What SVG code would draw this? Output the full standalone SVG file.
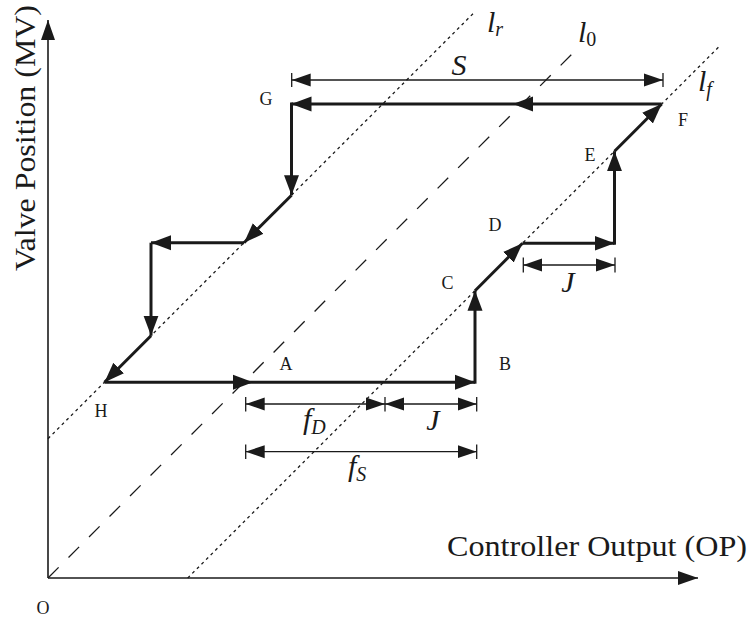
<svg xmlns="http://www.w3.org/2000/svg" width="751" height="619" viewBox="0 0 751 619" font-family="'Liberation Serif', 'Times New Roman', serif">
<style>
.ax{stroke:#1a1a1a;stroke-width:1.6;fill:none}
.thick{stroke:#1a1a1a;stroke-width:3;fill:none;marker-end:url(#ah)}
.dim{stroke:#1a1a1a;stroke-width:1.3;fill:none;marker-start:url(#dh);marker-end:url(#dh)}
.tick{stroke:#1a1a1a;stroke-width:1.3}
.dot{stroke:#1a1a1a;stroke-width:1.3;stroke-dasharray:3 3.5;fill:none}
.dash{stroke:#1a1a1a;stroke-width:1.3;stroke-dasharray:15 14;fill:none}
text{font-family:'Liberation Serif','Times New Roman',serif;fill:#1a1a1a}
.pt{font-size:18px;text-anchor:middle}
.math{font-style:italic;font-size:30px}
.sub{font-size:20px}
.rm{font-style:normal}
.axl{font-size:29px}
</style>
<defs>
<marker id="ah" viewBox="-20 -8 20 16" refX="0" refY="0" markerWidth="20" markerHeight="16" markerUnits="userSpaceOnUse" orient="auto-start-reverse"><path d="M0,0 L-20,-7.5 L-20,7.5 Z" fill="#1a1a1a"/></marker>
<marker id="dh" viewBox="-19 -7 19 14" refX="0" refY="0" markerWidth="19" markerHeight="14" markerUnits="userSpaceOnUse" orient="auto-start-reverse"><path d="M0,0 L-19,-6.5 L-19,6.5 Z" fill="#1a1a1a"/></marker>
<marker id="axh" viewBox="-20 -8 20 16" refX="0" refY="0" markerWidth="20" markerHeight="16" markerUnits="userSpaceOnUse" orient="auto"><path d="M0,0 L-20,-7 L-20,7 Z" fill="#1a1a1a"/></marker>
</defs>

<g id="axes">
<path class="ax" d="M48,578 V20" marker-end="url(#axh)"/>
<path class="ax" d="M48,578 H698" marker-end="url(#axh)"/>
<text class="axl" transform="translate(35,138) rotate(-90)" text-anchor="middle" textLength="266" lengthAdjust="spacingAndGlyphs">Valve Position (MV)</text>
<text class="axl" x="747" y="556" text-anchor="end" textLength="300" lengthAdjust="spacingAndGlyphs">Controller Output (OP)</text>
</g>

<g id="reference-lines">
<path class="dot" d="M48,438.7 L475,11.7"/>
<path class="dash" d="M48,578 L576,50"/>
<path class="dot" d="M187.7,578 L720,45.7"/>
</g>

<g id="connectors">
<path class="thick" d="M291.5,102.5 V195.2"/>
<path class="thick" d="M291.5,195.2 L244,242.7"/>
<path class="thick" d="M244,242.7 H151"/>
<path class="thick" d="M151,242.7 V335.7"/>
<path class="thick" d="M151,335.7 L104.5,382.2"/>
<path class="thick" d="M104.5,382.2 H253"/>
<path class="thick" d="M253,382.2 H475"/>
<path class="thick" d="M475,383.7 V290.7"/>
<path class="thick" d="M475,290.7 L522.5,243.2"/>
<path class="thick" d="M522.5,243.2 H614.5"/>
<path class="thick" d="M614.5,244.7 V151.2"/>
<path class="thick" d="M614.5,151.2 L661.7,104"/>
<path class="thick" d="M661.7,104 H513"/>
<path class="thick" d="M513,104 H291.5"/>
</g>

<g id="dimensions">
<path class="dim" d="M291.7,80 H663"/>
<line class="tick" x1="291.7" y1="73" x2="291.7" y2="87"/>
<line class="tick" x1="663" y1="73" x2="663" y2="87"/>
<path class="dim" d="M245.7,404 H385"/>
<path class="dim" d="M385,404 H476.7"/>
<line class="tick" x1="245.7" y1="397" x2="245.7" y2="411.5"/>
<line class="tick" x1="385" y1="397" x2="385" y2="411.5"/>
<line class="tick" x1="476.7" y1="397" x2="476.7" y2="411.5"/>
<path class="dim" d="M245.7,451.7 H476.7"/>
<line class="tick" x1="245.7" y1="444.5" x2="245.7" y2="459"/>
<line class="tick" x1="476.7" y1="444.5" x2="476.7" y2="459"/>
<path class="dim" d="M523.3,265 H615"/>
<line class="tick" x1="523.3" y1="257.5" x2="523.3" y2="272.5"/>
<line class="tick" x1="615" y1="257.5" x2="615" y2="272.5"/>
</g>

<g id="math-labels">
<text class="math" x="459" y="75" text-anchor="middle">S</text>
<text class="math" x="487" y="32">l<tspan class="sub" dy="4">r</tspan></text>
<text class="math" x="578" y="42">l<tspan class="sub rm" dy="4">0</tspan></text>
<text class="math" x="698" y="91">l<tspan class="sub" dy="5">f</tspan></text>
<text class="math" x="303" y="429">f<tspan class="sub" dy="5">D</tspan></text>
<text class="math" x="433" y="430" text-anchor="middle">J</text>
<text class="math" x="348" y="476">f<tspan class="sub" dy="5">S</tspan></text>
<text class="math" x="568" y="292" text-anchor="middle">J</text>
</g>

<g id="node-O"><text class="pt" x="43" y="614">O</text></g>
<g id="node-A"><text class="pt" x="286" y="370">A</text></g>
<g id="node-B"><text class="pt" x="505" y="370">B</text></g>
<g id="node-C"><text class="pt" x="447.5" y="289">C</text></g>
<g id="node-D"><text class="pt" x="495" y="230.5">D</text></g>
<g id="node-E"><text class="pt" x="590" y="161">E</text></g>
<g id="node-F"><text class="pt" x="683" y="126">F</text></g>
<g id="node-G"><text class="pt" x="266" y="105">G</text></g>
<g id="node-H"><text class="pt" x="101" y="417">H</text></g>
</svg>
